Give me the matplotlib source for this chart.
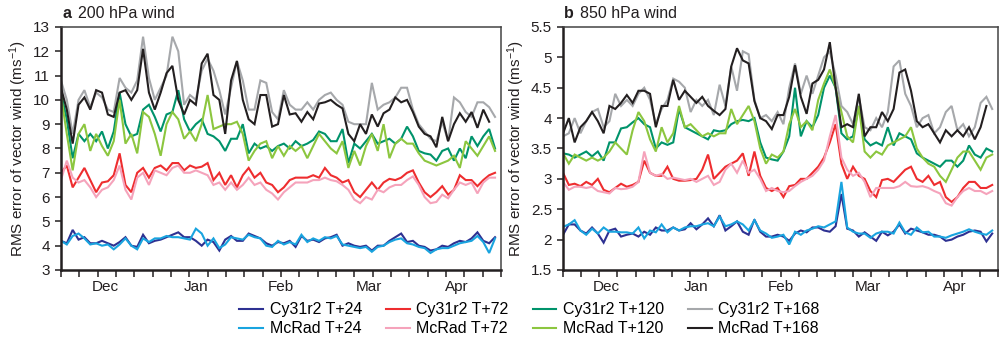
import numpy as np
import matplotlib
matplotlib.use('Agg')
import matplotlib.pyplot as plt
from matplotlib.ticker import FormatStrFormatter

plt.rcParams['font.family'] = ['Liberation Sans', 'DejaVu Sans']
plt.rcParams['mathtext.fontset'] = 'custom'
plt.rcParams['mathtext.rm'] = 'Liberation Sans'
plt.rcParams['mathtext.it'] = 'Liberation Sans:italic'
plt.rcParams['mathtext.bf'] = 'Liberation Sans:bold'

# days since 1 Dec, sampled every second day
days = np.arange(0, 150, 2)
month_pos = [15, 46, 75, 105, 135]
month_labels = ['Dec', 'Jan', 'Feb', 'Mar', 'Apr']

# ---- panel a: 200 hPa wind ----
a_cy24 = [4.2, 4.1, 4.65, 4.25, 4.35, 4.1, 4.1, 4.2, 4.1, 4.0,
          4.15, 4.35, 4.0, 3.95, 4.45, 4.1, 4.2, 4.25, 4.35, 4.45,
          4.55, 4.35, 4.35, 4.2, 4.0, 4.25, 4.15, 3.8, 4.25, 4.4,
          4.2, 4.2, 4.5, 4.4, 4.3, 4.1, 4.0, 4.15, 4.1, 4.2,
          3.95, 4.4, 4.2, 4.25, 4.15, 4.3, 4.35, 4.45, 4.0, 4.1,
          4.0, 3.95, 4.0, 3.8, 4.0, 4.0, 4.2, 4.35, 4.5, 4.15,
          4.2, 4.0, 3.95, 3.8, 3.85, 4.0, 3.95, 4.1, 4.2, 4.15,
          4.3, 4.55, 4.2, 4.1, 4.35]
a_mc24 = [4.2, 4.05, 4.4, 4.5, 4.3, 4.05, 4.1, 4.0, 4.05, 3.85,
          4.05, 4.3, 4.0, 3.85, 4.3, 4.15, 4.3, 4.3, 4.4, 4.35,
          4.35, 4.3, 4.25, 4.7, 4.5, 4.0, 4.3, 3.9, 4.05, 4.35,
          4.3, 4.25, 4.45, 4.35, 4.3, 4.0, 3.95, 4.2, 4.05, 4.15,
          4.05, 4.45, 4.15, 4.3, 4.2, 4.35, 4.3, 4.4, 4.05, 4.0,
          3.95, 3.9, 3.95, 3.75, 3.95, 4.0, 4.15, 4.25, 4.3, 4.1,
          4.05, 3.95, 3.9, 3.7, 3.85, 3.9, 3.9, 4.0, 4.1, 4.15,
          4.2, 4.4, 4.15, 3.7, 4.3]
a_cy72 = [7.0, 7.3, 6.4, 6.8, 7.2, 6.7, 6.2, 6.6, 6.65, 6.9,
          7.8, 6.5, 6.2, 7.0, 7.2, 6.8, 7.2, 7.3, 7.1, 7.4,
          7.4, 7.1, 7.3, 7.2, 7.25, 7.4, 6.7, 7.0, 6.5, 6.9,
          6.4, 6.9, 7.2, 6.8, 7.0, 6.6, 6.5, 6.2, 6.4, 6.7,
          6.8, 6.8, 6.8, 6.9, 6.8, 7.2, 6.9, 6.8, 6.6, 6.7,
          6.2, 6.0, 6.3, 6.6, 6.3, 6.6, 6.75, 6.7, 6.8, 7.0,
          7.1, 6.6, 6.2, 6.0, 6.2, 6.45, 6.1, 6.3, 6.9, 6.7,
          6.7, 6.45, 6.7, 6.9, 7.0]
a_mc72 = [6.7, 7.5, 6.8, 6.6, 6.7, 6.4, 6.0, 6.3, 6.4, 6.7,
          7.3, 6.3, 5.9, 6.8, 7.0, 6.5, 7.1, 7.0, 6.9, 7.2,
          7.3, 7.0, 7.0, 7.1, 7.0, 6.9, 6.5, 6.6, 6.3, 6.6,
          6.3, 6.5, 6.8, 6.5, 6.6, 6.3, 6.15, 5.9, 6.2, 6.4,
          6.6, 6.6, 6.6, 6.7, 6.7, 6.8, 6.7, 6.65, 6.5, 6.3,
          5.9, 5.75, 6.0, 5.9, 6.3, 6.2, 6.4, 6.5, 6.5, 6.7,
          6.85, 6.5, 6.0, 5.75, 5.8, 6.1, 5.95, 6.3, 6.6, 6.5,
          6.6, 6.15, 6.6, 6.8, 6.8]
a_cy120 = [10.3, 9.2, 7.6, 8.6, 8.3, 8.6, 8.3, 8.7, 8.0, 8.7,
           10.3, 9.0, 8.5, 8.6, 9.6, 9.8, 9.3, 8.7, 9.4, 9.5,
           10.4, 9.2, 8.7, 9.0, 9.2, 8.6, 8.5, 8.3, 7.9, 8.4,
           8.4, 9.0, 7.8, 8.2, 8.0, 8.1, 7.9, 8.1, 8.2, 8.0,
           8.3, 8.1, 8.2, 8.35, 8.7, 8.6, 8.3, 8.3, 8.8, 7.4,
           8.2, 8.0, 8.3, 8.6, 8.2, 8.3, 8.4, 8.2, 8.4, 8.9,
           8.5, 7.9, 7.8, 7.75, 7.5, 7.9, 8.0, 7.5, 8.0, 7.6,
           8.5, 8.1, 8.5, 8.8, 8.0]
a_mc120 = [10.2, 8.6, 7.1, 8.6, 9.0, 7.9, 8.6, 8.1, 7.7, 8.3,
           10.0, 8.2, 8.6, 7.8, 9.5, 9.3, 8.6, 7.7, 9.0, 9.5,
           9.2, 8.4, 8.7, 8.3, 9.0, 10.2, 8.8, 8.9, 9.0, 9.0,
           9.1, 8.6, 7.5, 7.9, 8.2, 8.3, 7.6, 8.1, 7.7, 8.1,
           7.9, 8.1, 7.6, 8.1, 8.6, 8.3, 8.0, 7.8, 8.3, 7.2,
           7.9, 7.3, 8.1, 8.6, 7.9, 9.0, 7.6, 8.2, 8.4, 8.2,
           8.2, 7.8, 7.5, 7.4, 7.3, 7.4, 7.5, 7.7, 7.2, 8.3,
           8.0, 7.7, 8.1, 8.5, 7.9]
a_cy168 = [10.8, 10.0, 8.6, 10.0, 10.4, 9.7, 10.3, 10.1, 9.6, 9.5,
           10.9, 10.5, 10.3, 10.8, 12.6, 10.9, 10.0, 10.5, 11.0, 12.6,
           12.0, 9.8, 10.2, 10.0, 11.2, 11.7, 11.2, 10.4, 9.4, 10.5,
           11.6, 10.8, 9.6, 9.6, 10.8, 10.7, 9.5, 9.2, 10.4, 9.8,
           9.6, 9.6, 9.9, 9.6, 10.0, 10.2, 10.3, 10.0, 9.8, 9.1,
           9.0, 9.0, 9.0, 10.7, 9.6, 9.8, 9.9, 10.1, 10.5, 10.5,
           9.6, 9.0, 8.7, 8.4, 8.3, 9.1, 8.3, 10.1, 9.9, 9.5,
           9.3, 9.9, 9.9, 9.7, 9.3]
a_mc168 = [10.5, 9.6, 8.2, 9.8, 10.1, 9.6, 10.4, 10.3, 9.4, 9.3,
           10.3, 10.4, 10.0, 10.4, 12.1, 10.3, 9.6, 10.3, 11.1, 11.4,
           10.0, 9.4, 10.0, 9.8, 11.5, 11.9, 10.2, 10.0, 8.6, 10.8,
           11.6, 10.0, 9.2, 9.0, 10.2, 10.2, 8.9, 9.0, 10.2, 9.4,
           9.45, 9.1, 9.5, 9.2, 9.85, 9.9, 10.0, 9.8, 9.65, 8.6,
           8.3, 9.0, 8.6, 9.4, 8.9, 9.45, 9.6, 10.1, 9.9, 10.0,
           9.5, 8.9, 8.6, 8.5, 8.05, 9.3, 8.3, 9.0, 9.45, 9.1,
           9.5, 8.85, 9.6, 9.1]

# ---- panel b: 850 hPa wind ----
b_cy24 = [2.08, 2.25, 2.25, 2.15, 2.1, 2.2, 2.1, 1.95, 2.15, 2.18,
          2.05, 2.08, 2.1, 2.05, 2.13, 2.08, 2.2, 2.15, 2.15, 2.2,
          2.15, 2.17, 2.27, 2.17, 2.25, 2.35, 2.22, 2.4, 2.15, 2.22,
          2.3, 2.13, 2.08, 2.33, 2.13, 2.05, 2.05, 2.08, 2.05, 1.98,
          2.1, 2.15, 2.12, 2.2, 2.2, 2.15, 2.13, 2.22, 2.75, 2.18,
          2.15, 2.05, 2.12, 2.05, 1.98, 2.13, 2.07, 2.13, 2.25, 2.1,
          2.18, 2.15, 2.12, 2.08, 2.08, 2.05, 1.98, 2.0, 2.05, 2.08,
          2.13, 2.15, 2.13, 1.97, 2.1]
b_mc24 = [2.21, 2.25, 2.32, 2.15, 2.08, 2.18, 2.1, 2.2, 2.13, 2.13,
          2.12, 2.12, 2.1, 2.2, 2.02, 2.15, 2.12, 2.25, 2.12, 2.2,
          2.15, 2.2, 2.22, 2.22, 2.25, 2.27, 2.22, 2.38, 2.22, 2.25,
          2.3, 2.25, 2.15, 2.32, 2.15, 2.1, 2.03, 2.05, 2.08, 1.92,
          2.13, 2.08, 2.15, 2.18, 2.22, 2.2, 2.25, 2.3, 2.95, 2.2,
          2.13, 2.1, 2.1, 2.03, 2.1, 2.13, 2.13, 2.1, 2.28, 2.12,
          2.08, 2.2, 2.12, 2.13, 2.05, 2.05, 2.03, 2.07, 2.1, 2.13,
          2.17, 2.13, 2.1, 2.08, 2.15]
b_cy72 = [3.1, 2.9, 2.92, 2.88, 2.95, 2.9, 3.0, 2.82, 2.78, 2.85,
          2.92, 2.87, 2.9, 2.95, 3.3, 3.1, 3.05, 3.05, 3.2, 3.0,
          2.97, 2.97, 2.98, 3.0, 3.15, 3.4, 3.0, 3.1, 3.2, 3.25,
          3.3, 3.42, 3.05, 3.45, 3.05, 2.85, 2.8, 2.85, 2.7, 2.88,
          2.9, 3.0, 3.0, 3.1, 3.2, 3.35, 3.6, 3.9, 3.25, 3.0,
          3.2, 3.05, 3.0, 2.8, 2.7, 2.98, 3.0, 2.95, 3.05, 3.15,
          3.2, 3.0, 2.95, 3.05, 2.9, 2.95, 2.7, 2.62, 2.7, 2.85,
          2.95, 2.95, 2.85, 2.85, 2.9]
b_mc72 = [2.95, 2.82, 2.87, 2.87, 2.85, 2.87, 2.8, 2.78, 2.76, 2.85,
          2.83, 2.84, 2.87, 2.95, 3.45, 3.1, 3.05, 3.08, 3.0, 3.02,
          3.0, 2.98, 3.0, 2.95, 3.0, 3.05, 2.9, 2.95, 3.15, 3.25,
          3.1, 3.3, 3.1, 3.15, 3.0, 2.8, 2.85, 2.8, 2.78, 2.8,
          2.88, 2.95, 3.0, 3.05, 3.15, 3.3, 3.7, 4.05, 3.35, 3.15,
          3.05, 3.1, 2.95, 2.7, 2.85, 2.85, 2.85, 2.85, 2.88, 2.95,
          2.88, 2.87, 2.88, 2.85, 2.8, 2.76, 2.6, 2.56, 2.7, 2.8,
          2.85, 2.8, 2.8, 2.75, 2.8]
b_cy120 = [3.42, 3.4, 3.35, 3.4, 3.45, 3.37, 3.45, 3.3, 3.6, 3.6,
           3.83, 3.85, 3.93, 4.0, 3.9, 3.85, 3.5, 3.6, 3.56, 3.6,
           4.15, 3.85, 3.8, 3.75, 3.7, 3.65, 3.8, 3.78, 3.8, 3.9,
           3.95, 3.97, 3.95, 4.0, 3.6, 3.35, 3.32, 3.3, 3.45, 3.7,
           4.5, 3.7, 3.95, 3.85, 4.05, 4.5, 4.7, 4.5, 3.75, 3.65,
           3.7, 4.2, 3.65, 3.55, 3.6, 3.55, 3.85, 3.55, 3.75, 3.7,
           3.65, 3.42, 3.35, 3.3, 3.25, 3.2, 3.3, 3.3, 3.2, 3.3,
           3.55, 3.4, 3.35, 3.5, 3.45]
b_mc120 = [3.42, 3.25, 3.4, 3.35, 3.3, 3.35, 3.3, 3.35, 3.45, 3.6,
           3.5, 3.4, 3.8, 4.1, 3.95, 3.65, 3.45, 3.85, 3.6, 3.75,
           4.2, 3.85, 3.9, 3.8, 3.7, 3.75, 3.7, 3.75, 3.75, 4.15,
           3.9, 4.05, 4.2, 3.95, 3.5, 3.25, 3.4, 3.35, 3.45, 3.9,
           4.15, 3.85, 3.95, 3.8, 4.3, 4.57, 4.8, 4.5, 4.1, 3.7,
           3.6, 4.2, 3.45, 3.35, 3.45, 3.4, 3.55, 3.6, 3.65, 3.7,
           3.85, 3.5, 3.35, 3.25, 3.2, 3.05, 2.95, 3.15, 3.35, 3.45,
           3.45, 3.3, 3.15, 3.35, 3.4]
b_cy168 = [3.7, 3.75, 4.0, 3.75, 3.95, 4.1, 4.15, 3.85, 3.95, 4.4,
           4.2, 4.3, 4.2, 4.4, 4.5, 4.3, 3.9, 4.15, 4.3, 4.65,
           4.6, 4.5, 4.1, 4.3, 4.2, 4.3, 4.05, 4.55, 4.2, 4.85,
           4.45, 5.1, 5.05, 4.3, 4.0, 4.05, 3.95, 4.1, 3.9, 4.5,
           4.9, 4.4, 4.7, 4.4, 4.7, 5.0, 5.1, 4.7, 4.2, 4.1,
           3.9, 4.35, 3.85, 3.8, 4.0, 3.85, 4.1, 4.85, 4.95, 4.4,
           4.2, 3.85, 4.0, 4.05, 3.75, 3.85, 4.1, 4.2, 3.8, 3.9,
           3.7, 3.85, 4.25, 4.35, 4.15]
b_mc168 = [3.75, 4.0, 3.6, 3.85, 3.95, 4.1, 3.95, 3.75, 4.2, 4.15,
           4.25, 4.38, 4.25, 4.45, 4.45, 4.4, 3.85, 4.2, 4.2, 4.63,
           4.3, 4.45, 4.35, 4.25, 4.35, 4.2, 4.12, 4.05, 4.15, 4.85,
           5.15, 4.95, 4.9, 4.28, 4.0, 3.95, 3.82, 4.05, 4.05, 4.35,
           4.87, 4.35, 4.07, 4.57, 4.63, 4.8, 5.25, 4.5, 3.85, 3.9,
           3.85, 4.4, 3.7, 3.85, 3.85, 4.1, 3.95, 4.15, 4.75, 4.8,
           4.45, 3.95, 3.85, 3.9, 3.75, 3.6, 3.8, 3.7, 3.8, 3.7,
           3.85, 3.65, 3.85, 4.2]

labels = ['Cy31r2 T+24', 'McRad T+24', 'Cy31r2 T+72', 'McRad T+72',
          'Cy31r2 T+120', 'McRad T+120', 'Cy31r2 T+168', 'McRad T+168']
colors = ['#2e3192', '#19a4df', '#ee2d2f', '#f5a3bb',
          '#00936b', '#8cc63f', '#a6a8ab', '#231f20']

panels = [
    ('a', '200 hPa wind', [a_cy24, a_mc24, a_cy72, a_mc72, a_cy120, a_mc120, a_cy168, a_mc168],
     (3, 13), np.arange(3, 13.1, 1), [0.061, 0.2012, 0.4404, 0.719]),
    ('b', '850 hPa wind', [b_cy24, b_mc24, b_cy72, b_mc72, b_cy120, b_mc120, b_cy168, b_mc168],
     (1.5, 5.5), np.arange(1.5, 5.51, 0.5), [0.5636, 0.2012, 0.4354, 0.719]),
]

fig = plt.figure(figsize=(9.99, 3.38), dpi=100)

handles = []
for letter, title, series, ylim, yticks, rect in panels:
    ax = fig.add_axes(rect)
    lines = []
    for vals, lab, col in zip(series, labels, colors):
        ln, = ax.plot(days[:len(vals)], vals, color=col, lw=1.5, label=lab,
                      solid_joinstyle='miter')
        lines.append(ln)
    handles = lines

    ax.set_xlim(0, 150)
    ax.set_ylim(*ylim)
    ax.set_yticks(yticks)
    ax.yaxis.set_major_formatter(FormatStrFormatter('%g'))

    # unlabeled ticks along the bottom, month names between them
    ax.set_xticks(np.linspace(0, 150, 25))
    ax.set_xticklabels([])
    ax.set_xticks(month_pos, minor=True)
    ax.set_xticklabels(month_labels, minor=True)
    ax.xaxis.remove_overlapping_locs = False
    ax.tick_params(axis='x', which='major', direction='out', length=5, width=1.1, color='#231f20')
    ax.tick_params(axis='x', which='minor', length=0, pad=7, labelsize=11, labelcolor='#231f20')
    ax.tick_params(axis='y', direction='out', length=4, width=1.1, pad=4,
                   labelsize=11, labelcolor='#231f20', color='#231f20')

    for side in ['left', 'bottom']:
        ax.spines[side].set_linewidth(1.8)
        ax.spines[side].set_color('#231f20')
    for side in ['top', 'right']:
        ax.spines[side].set_linewidth(1.1)
        ax.spines[side].set_color('#444444')

    ax.set_ylabel('RMS error of vector wind (ms$^{-1}$)', fontsize=11, color='#231f20', labelpad=3)

    ax.annotate(letter, xy=(0, 1), xycoords='axes fraction', xytext=(1, 6.5),
                textcoords='offset points', fontsize=11.5, fontweight='bold',
                ha='left', va='baseline', color='#231f20')
    ax.annotate(title, xy=(0, 1), xycoords='axes fraction', xytext=(12, 6.5),
                textcoords='offset points', fontsize=11.5,
                ha='left', va='baseline', color='#231f20')

fig.legend(handles, labels, ncol=4, loc='center', bbox_to_anchor=(0.53, 0.055),
           frameon=False, fontsize=11.5, handlelength=1.5, handletextpad=0.4,
           columnspacing=1.5, labelspacing=0.25, borderpad=0.2)

fig.savefig('out.png', dpi=100)
